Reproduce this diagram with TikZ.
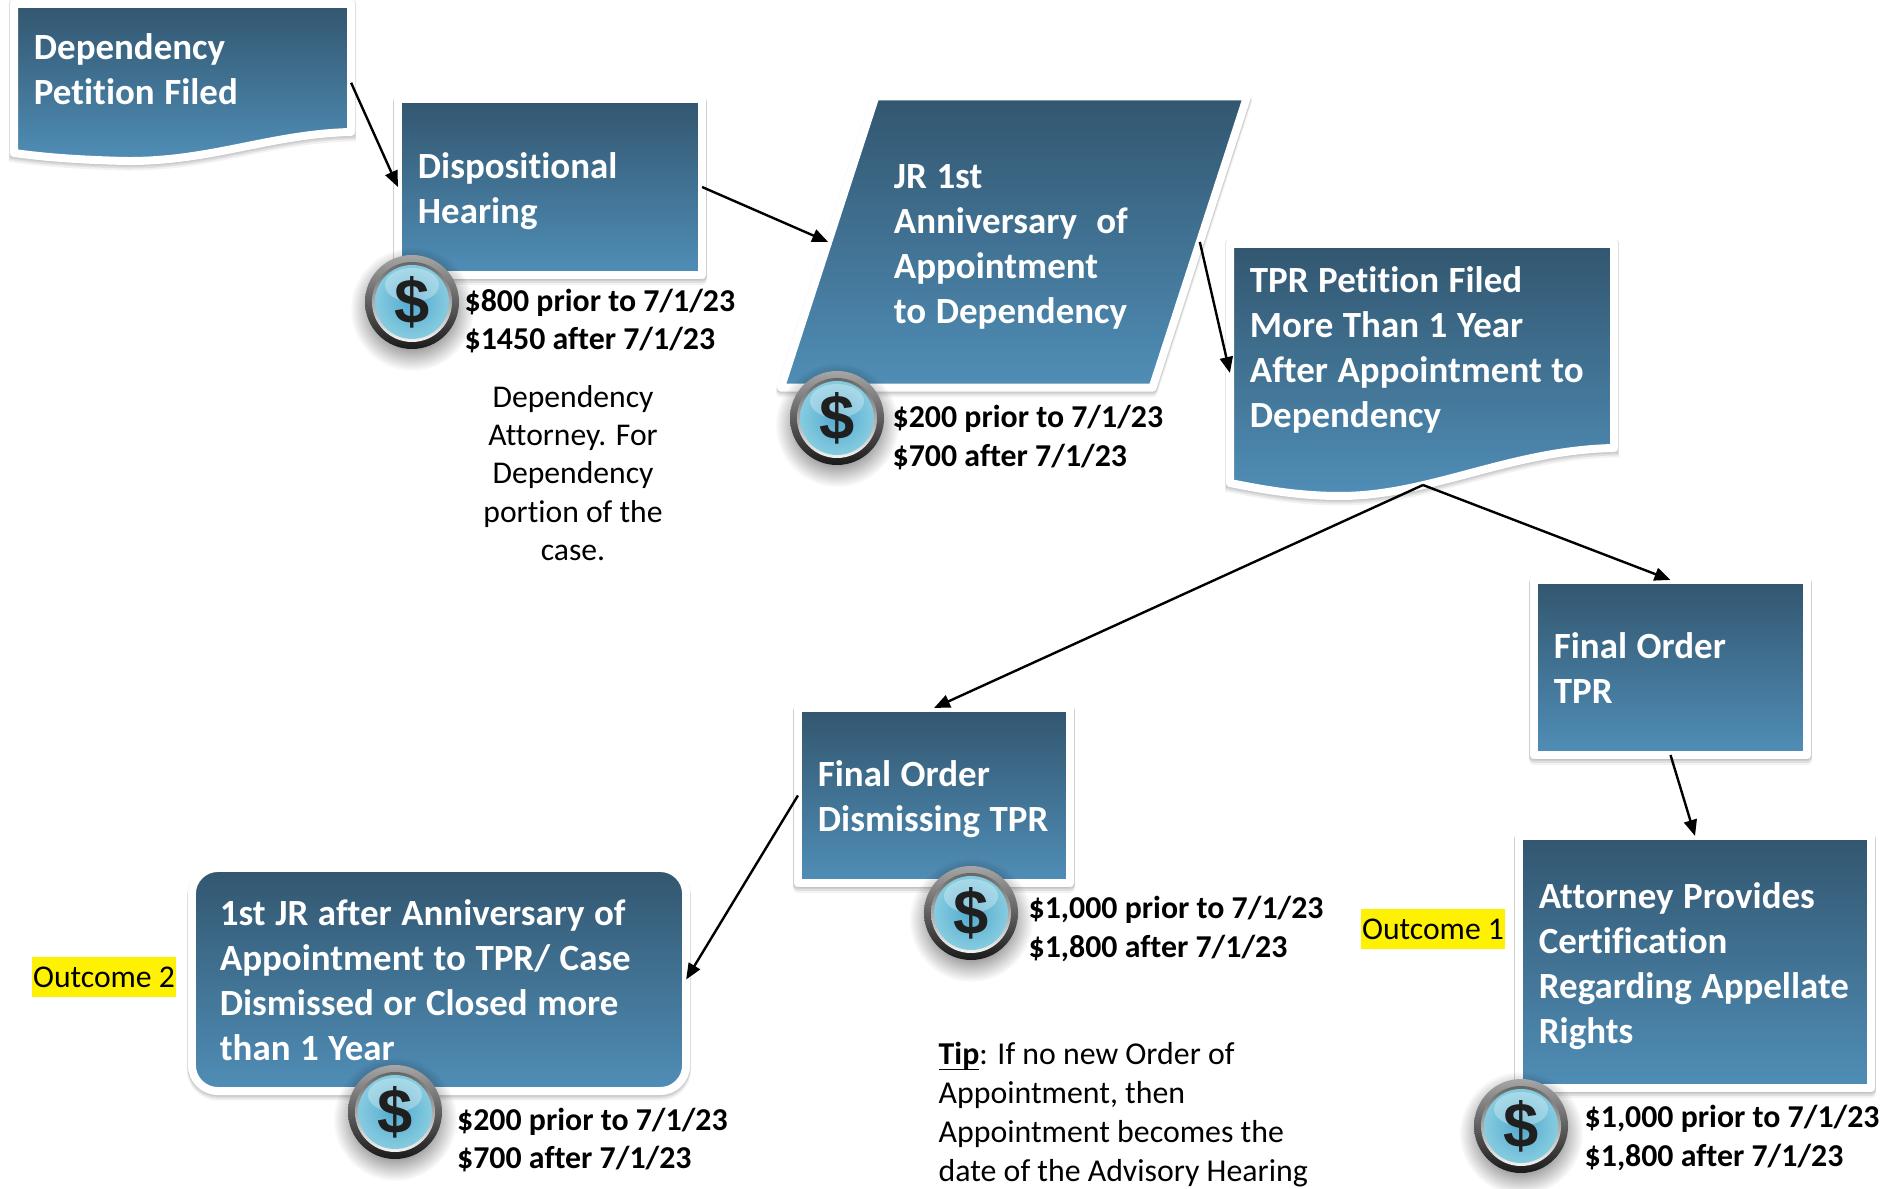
\documentclass[tikz,border=0pt]{standalone}
\usepackage{fontspec}
\setmainfont{Carlito}[Ligatures=NoCommon]
\newfontfamily\coinfont{Liberation Sans}
\usetikzlibrary{arrows.meta,shadows,shapes.geometric,fadings}
\definecolor{boxtop}{HTML}{32566F}
\definecolor{boxbottom}{HTML}{508EB7}
\definecolor{coinrim}{HTML}{86CCE0}
\definecolor{coinmid}{HTML}{52A8CE}
\tikzfading[name=coinfade,inner color=transparent!0,outer color=transparent!100]
\newcommand{\boxsetup}{\spaceskip=.26em\relax\rule{0pt}{11.5pt}}
\newcommand{\boxclose}{\rule[-3.6pt]{0pt}{3.6pt}}
\tikzset{
  softshadow/.style={
    drop shadow={shadow xshift=0cm,shadow yshift=-.045cm,opacity=.05,fill=black,draw=black,line width=.1cm},
    drop shadow={shadow xshift=0cm,shadow yshift=-.03cm,opacity=.08,fill=black,draw=black,line width=.09cm},
    drop shadow={shadow xshift=0cm,shadow yshift=-.012cm,opacity=.08,fill=black,draw=black,line width=.09cm}},
  bluebox/.style={softshadow,top color=boxtop,bottom color=boxbottom,draw=white,line width=.08cm,line join=round},
  boxtext/.style={text=white,font=\bfseries\fontsize{10.5}{12.8}\selectfont,align=left,inner xsep=.2cm,inner ysep=0pt,outer sep=0pt,
    execute at begin node=\boxsetup,execute at end node=\boxclose},
  plainblock/.style 2 args={bluebox,boxtext,minimum width=#1,minimum height=#2,text width=#1-.4cm},
  paperblock/.style 2 args={boxtext,minimum width=#1,minimum height=#2,text width=#1-.4cm},
  connector/.style={-{Triangle[length=.16cm,width=.13cm]},line width=.024cm,black},
  pricetext/.style={anchor=west,inner sep=0pt,align=left,font=\bfseries\fontsize{9.05}{10.85}\selectfont},
  notetext/.style={inner sep=0pt,font=\fontsize{9}{10.9}\selectfont},
  outcome/.style={notetext,fill=yellow,minimum width=1.43cm,minimum height=.4cm},
  dollarcoin/.pic={
    \fill[black,path fading=coinfade] (0,7) circle (62);
    \shade[top color=black!35,bottom color=black!90] (0,0) circle (47);
    \shade[top color=black!60,bottom color=black!5] (0,0) circle (40);
    \shade[inner color=coinmid,outer color=coinrim] (0,0) circle (37);
    \fill[white,opacity=.3] (0,-17) ellipse (27 and 17);
    \node (-glyph) at (0,0) [inner sep=0pt,text=black!88,font=\coinfont\bfseries\fontsize{18}{18}\selectfont] {\$};
  }
}
\begin{document}
\begin{tikzpicture}[x=.01cm,y=-.01cm]
    \useasboundingbox (0,0) rectangle (1883,1189);

    % first paper shape
    \shade[bluebox] (14,4) -- (351,4) -- (351,132)
      .. controls (270,134) and (210,162) .. (125,161)
      .. controls (85,160) and (50,158) .. (14,153) -- cycle;
    \node (petition) at (182.5,68) [paperblock={3.37cm}{1.28cm}] {Dependency\\Petition Filed};

    \node (hearing) at (550,187) [plainblock={3.04cm}{1.76cm}] {Dispositional\\Hearing};

    \node (anniversary) at (1014,242) [trapezium,trapezium left angle=63.3,trapezium right angle=116.7,
      trapezium stretches body=true,bluebox,text=white,font=\bfseries\fontsize{10.5}{12.8}\selectfont,align=left,
      inner sep=0pt,outer sep=0pt,minimum width=4.66cm,minimum height=2.91cm,text width=2.4cm,
      execute at begin node=\boxsetup,execute at end node=\boxclose]
      {JR 1st\\Anniversary\ \ of\\Appointment\\to Dependency};

    % second paper shape
    \shade[bluebox] (1230,244) -- (1614,244) -- (1614,448)
      .. controls (1510,450) and (1430,496) .. (1340,496)
      .. controls (1300,496) and (1265,490) .. (1230,483) -- cycle;
    \node (petitiontpr) at (1422,346) [paperblock={3.84cm}{2.04cm}]
      {TPR Petition Filed\\More Than 1 Year\\After Appointment to\\Dependency};
    \coordinate (papertip) at (1423,485);

    \node (ordertpr) at (1670.5,667.5) [plainblock={2.73cm}{1.75cm}] {Final Order\\TPR};
    \node (orderdismiss) at (934,795.5) [plainblock={2.72cm}{1.75cm}] {Final Order\\Dismissing~TPR};
    \node (certification) at (1695,962) [plainblock={3.52cm}{2.52cm}]
      {Attorney Provides\\Certification\\Regarding~Appellate\\Rights};
    \node (closed) at (439,979.5) [plainblock={4.94cm}{2.23cm},rounded corners=.26cm,inner xsep=.28cm,text width=4.38cm]
      {1st JR after Anniversary of\\Appointment to TPR/ Case\\Dismissed or Closed more\\than 1 Year};

    \draw[connector] (petition.-5) -- (hearing.west);
    \draw[connector] (hearing.east) -- (anniversary.west);
    \draw[connector] (anniversary.east) -- (petitiontpr.188);
    \draw[connector] (papertip) -- (orderdismiss.north);
    \draw[connector] (papertip) -- (ordertpr.north);
    \draw[connector] (ordertpr.south) -- (certification.north);
    \draw[connector] (orderdismiss.west) -- (closed.east);

    \pic (coina) at (412,302) {dollarcoin};
    \pic (coinb) at (837,418) {dollarcoin};
    \pic (coinc) at (971,913) {dollarcoin};
    \pic (coind) at (395,1112) {dollarcoin};
    \pic (coine) at (1521,1126) {dollarcoin};

    \node (pricea) at (464,321) [pricetext] {\$800 prior to 7/1/23\\\$1450 after 7/1/23};
    \node (priceb) at (892,437.5) [pricetext] {\$200 prior to 7/1/23\\\$700 after 7/1/23};
    \node (pricec) at (1028,929) [pricetext] {\$1,000 prior to 7/1/23\\\$1,800 after 7/1/23};
    \node (priced) at (456.5,1140) [pricetext] {\$200 prior to 7/1/23\\\$700 after 7/1/23};
    \node (pricee) at (1584,1138) [pricetext] {\$1,000 prior to 7/1/23\\\$1,800 after 7/1/23};

    \node (attorneynote) at (573,473) [notetext,align=center]
      {Dependency\\Attorney. For\\Dependency\\portion of the\\case.};
    \node (tipnote) at (938,1115) [notetext,anchor=west,align=left,font=\fontsize{9.05}{11.1}\selectfont]
      {\underline{\smash{\textbf{Tip}}}: If no new Order of\\Appointment, then\\Appointment becomes the\\date of the Advisory Hearing};
    \node (outcomeone) at (1433,929) [outcome] {Outcome 1};
    \node (outcometwo) at (104,977) [outcome] {Outcome 2};
\end{tikzpicture}
\end{document}
